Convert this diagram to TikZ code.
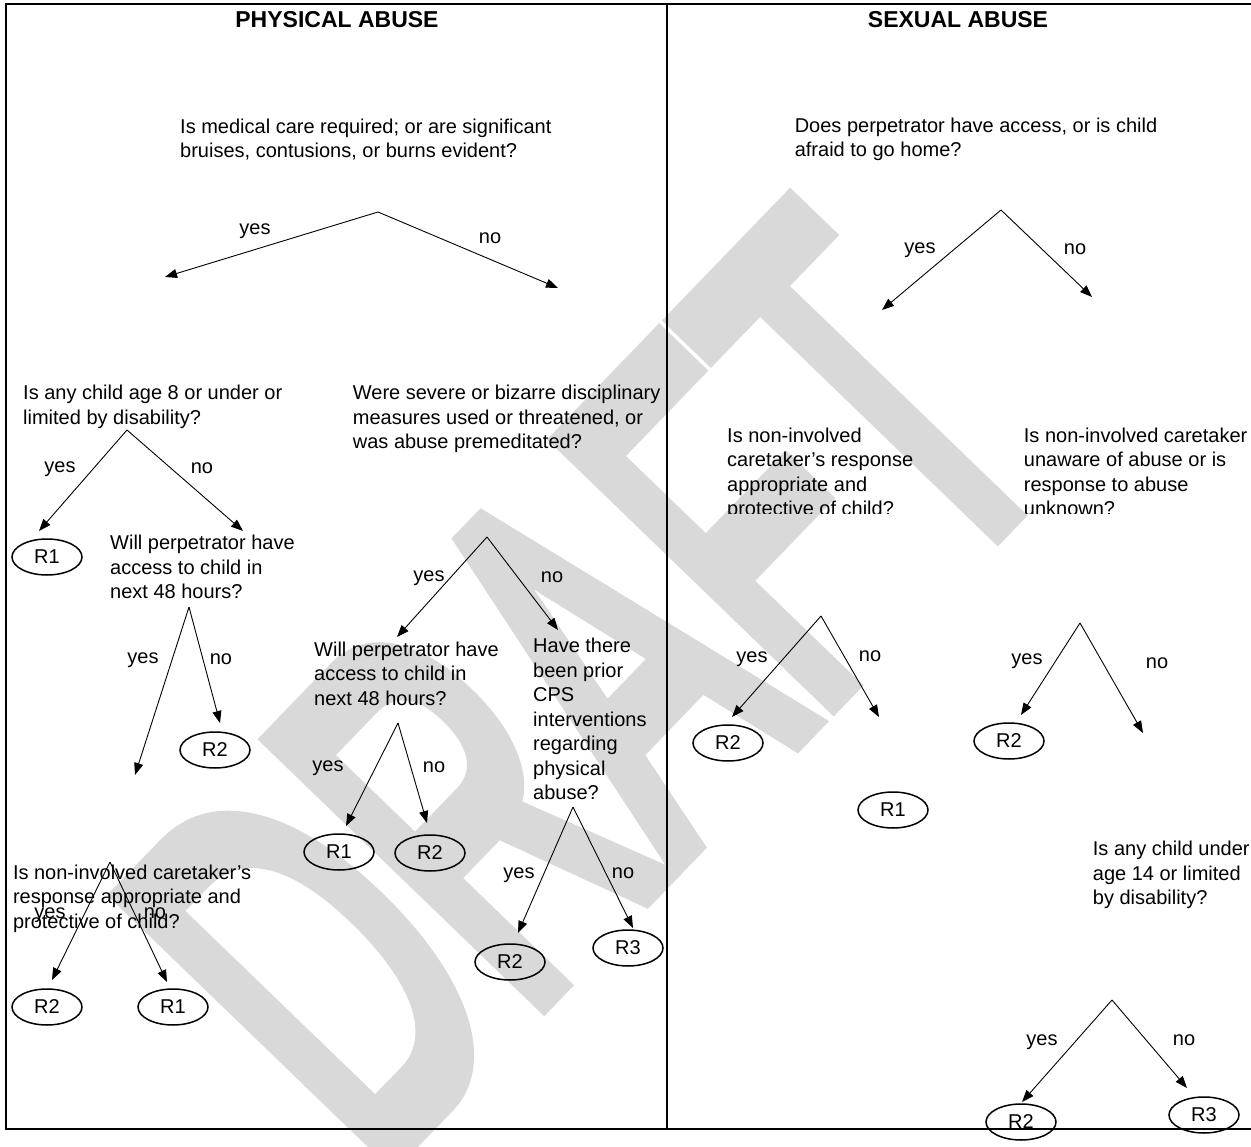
\documentclass[tikz,border=0pt]{standalone}
\usepackage{fontspec}
\setmainfont{Liberation Sans}
\newfontfamily\wmfont[FakeBold=5]{Liberation Sans}
\usetikzlibrary{arrows.meta,shapes.geometric}
\definecolor{wmgray}{RGB}{217,217,217}
\tikzset{
  txt/.style={font=\fontsize{20}{24.5}\selectfont, inner sep=0pt},
  question/.style={txt, align=left, anchor=north west},
  answer/.style={txt, anchor=base},
  head/.style={font=\fontsize{23}{27}\selectfont\bfseries, inner sep=0pt, anchor=base},
  result/.style={txt, draw, ellipse, line width=1.5pt, minimum width=70pt, minimum height=36pt},
  branch/.style={line width=0.9pt, -{Triangle[length=12pt,width=9pt]}},
  frame/.style={line width=2.2pt}
}
\begin{document}
\begin{tikzpicture}[x=1pt,y=-1pt]
  \useasboundingbox (0,0) rectangle (1251,1147);
  \node[rotate=46, anchor=base west, text=wmgray, inner sep=0pt,
    font=\wmfont\fontsize{300}{300}\selectfont] (wm) at (372,1175) {\scalebox{1}[1.8]{DRAFT}};

  \draw[frame] (6,4) rectangle (1270,1129);
  \draw[frame] (667,4) -- (667,1129);

  \node[head] (phys) at (337,28) {PHYSICAL ABUSE};
  \node[head] (sex) at (958,28) {SEXUAL ABUSE};

  % physical abuse
  \node[question] (q1) at (180,118.6) {Is medical care required; or are significant\\bruises, contusions, or burns evident?};
  \node[question] (q2) at (23,385.2) {Is any child age 8 or under or\\limited by disability?};
  \node[question] (q5) at (352.7,385.2) {Were severe or bizarre disciplinary\\measures used or threatened, or\\was abuse premeditated?};
  \node[question] (q3) at (110,535) {Will perpetrator have\\access to child in\\next 48 hours?};
  \node[question] (q6) at (314,641.5) {Will perpetrator have\\access to child in\\next 48 hours?};
  \node[question] (q7) at (533,638.3) {Have there\\been prior\\CPS\\interventions\\regarding\\physical\\abuse?};
  \node[question] (q4) at (12.8,864.8) {Is non-involved caretaker's\\response appropriate and\\protective of child?};

  \node[result] (p1) at (47,557) {R1};
  \node[result] (p2) at (215,750) {R2};
  \node[result] (p3) at (339,852) {R1};
  \node[result] (p4) at (430,853) {R2};
  \node[result] (p5) at (510,962) {R2};
  \node[result] (p6) at (628,948) {R3};
  \node[result] (p7) at (47,1007) {R2};
  \node[result] (p8) at (173,1007) {R1};

  \node[answer] (y1) at (255,235) {yes};
  \node[answer] (n1) at (490,244) {no};
  \node[answer] (y2) at (60,473) {yes};
  \node[answer] (n2) at (202,474) {no};
  \node[answer] (y3) at (143,663) {yes};
  \node[answer] (n3) at (221,664) {no};
  \node[answer] (y5) at (429,581) {yes};
  \node[answer] (n5) at (552,582) {no};
  \node[answer] (y6) at (328,771) {yes};
  \node[answer] (n6) at (434,772) {no};
  \node[answer] (y7) at (519,878) {yes};
  \node[answer] (n7) at (623,878) {no};
  \node[answer] (y4) at (50,918) {yes};
  \node[answer] (n4) at (155,918) {no};

  \coordinate (a1) at (378,212);  \coordinate (a1y) at (165,277);  \coordinate (a1n) at (558,288);
  \coordinate (a2) at (127,430);  \coordinate (a2y) at (39,531);   \coordinate (a2n) at (243,531);
  \coordinate (a3) at (189,607);  \coordinate (a3y) at (135,775);  \coordinate (a3n) at (220,723);
  \coordinate (a5) at (487,537);  \coordinate (a5y) at (397,637);  \coordinate (a5n) at (558,630);
  \coordinate (a6) at (398,723);  \coordinate (a6y) at (346,826);  \coordinate (a6n) at (427,823);
  \coordinate (a7) at (573,807);  \coordinate (a7y) at (518,933);  \coordinate (a7n) at (633,928);
  \coordinate (a4) at (110,862);  \coordinate (a4y) at (52,980);   \coordinate (a4n) at (167,982);

  \foreach \a in {a1,a2,a3,a5,a6,a7,a4}{
    \draw[branch] (\a) -- (\a y);
    \draw[branch] (\a) -- (\a n);
  }

  % sexual abuse
  \node[question] (s1) at (794.6,117.6) {Does perpetrator have access, or is child\\afraid to go home?};
  \begin{scope}
    \clip (668,400) rectangle (1251,513);
    \node[question] (s2) at (727,427.6) {Is non-involved\\caretaker's response\\appropriate and\\protective of child?};
    \node[question] (s3) at (1023.7,427.6) {Is non-involved caretaker\\unaware of abuse or is\\response to abuse\\unknown?};
  \end{scope}
  \node[question] (s4) at (1092.7,841) {Is any child under\\age 14 or limited\\by disability?};

  \node[result] (t1) at (728,743) {R2};
  \node[result] (t2) at (893,810) {R1};
  \node[result] (t3) at (1009,741) {R2};
  \node[result] (t4) at (1021,1122) {R2};
  \node[result] (t5) at (1204,1115) {R3};

  \node[answer] (ys1) at (920,254) {yes};
  \node[answer] (ns1) at (1075,255) {no};
  \node[answer] (ys2) at (752,662) {yes};
  \node[answer] (ns2) at (870,661) {no};
  \node[answer] (ys3) at (1027,664) {yes};
  \node[answer] (ns3) at (1157,668) {no};
  \node[answer] (ys4) at (1042,1045) {yes};
  \node[answer] (ns4) at (1184,1045) {no};

  \coordinate (b1) at (1001,210);  \coordinate (b1y) at (882,310);  \coordinate (b1n) at (1092,297);
  \coordinate (b2) at (821,616);   \coordinate (b2y) at (732,717);  \coordinate (b2n) at (879,717);
  \coordinate (b3) at (1080,623);  \coordinate (b3y) at (1021,715); \coordinate (b3n) at (1143,733);
  \coordinate (b4) at (1112,1000); \coordinate (b4y) at (1022,1102); \coordinate (b4n) at (1187,1088);

  \foreach \b in {b1,b2,b3,b4}{
    \draw[branch] (\b) -- (\b y);
    \draw[branch] (\b) -- (\b n);
  }
\end{tikzpicture}
\end{document}
